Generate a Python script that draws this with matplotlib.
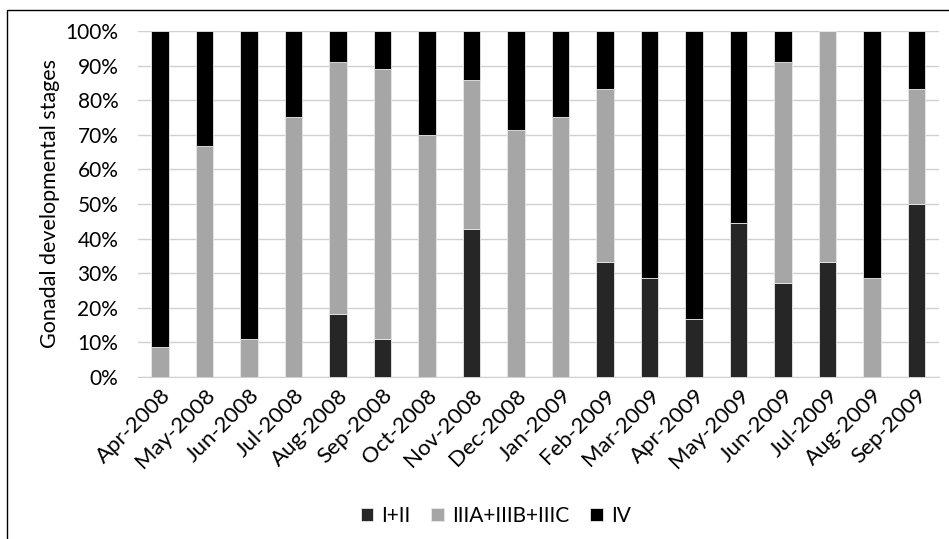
import matplotlib.pyplot as plt
import numpy as np
from matplotlib.patches import Rectangle


months = ["Apr-2008", "May-2008", "Jun-2008", "Jul-2008", "Aug-2008", "Sep-2008",
          "Oct-2008", "Nov-2008", "Dec-2008", "Jan-2009", "Feb-2009", "Mar-2009",
          "Apr-2009", "May-2009", "Jun-2009", "Jul-2009", "Aug-2009", "Sep-2009"]
stage_1_2 = [0, 0, 0, 0, 18.2, 11.1, 0, 42.9, 0, 0, 33.3, 28.6, 16.7, 44.4, 27.3, 33.3, 0, 50.0]
stage_3 = [8.7, 66.7, 11.1, 75.0, 72.7, 77.8, 70.0, 42.9, 71.4, 75.0, 50.0, 0, 0, 0, 63.6, 66.7, 28.6, 33.3]
stage_4 = [91.3, 33.3, 88.9, 25.0, 9.1, 11.1, 30.0, 14.3, 28.6, 25.0, 16.7, 71.4, 83.3, 55.6, 9.1, 0, 71.4, 16.7]

labels = ["I+II", "IIIA+IIIB+IIIC", "IV"]
colors = ["#262626", "#a6a6a6", "#000000"]

plt.rcParams["font.family"] = ["Lato", "DejaVu Sans"]

fig = plt.figure(figsize=(9.49, 5.39), dpi=100)
ax = fig.add_axes([0.1452, 0.3006, 0.8440, 0.6419])

x = np.arange(len(months))
bottom = np.zeros(len(months))
for vals, lab, col in zip([stage_1_2, stage_3, stage_4], labels, colors):
    vals = np.asarray(vals, dtype=float)
    ax.bar(x, vals, width=0.4, bottom=bottom, color=col, edgecolor="#e8e8e8",
           linewidth=0.6, label=lab, zorder=3)
    bottom += vals

ax.set_xlim(-0.5, len(months) - 0.5)
ax.set_ylim(0, 100)
ax.set_yticks(np.arange(0, 101, 10))
ax.set_yticklabels([f"{v}%" for v in range(0, 101, 10)])
ax.yaxis.grid(True, color="#d0d0d0", linewidth=1.0, zorder=0)
ax.set_axisbelow(True)
for side in ["top", "right", "left"]:
    ax.spines[side].set_visible(False)
ax.spines["bottom"].set_color("#d0d0d0")
ax.tick_params(axis="both", length=0, labelsize=15, colors="black")
ax.tick_params(axis="y", pad=14)
ax.tick_params(axis="x", pad=6, labelsize=16)
ax.set_xticks(x)
ax.set_xticklabels(months, rotation=45, ha="right", rotation_mode="anchor")
ax.set_ylabel("Gonadal developmental stages", fontsize=15.5, labelpad=4)

ax.legend(loc="center", bbox_to_anchor=(0.447, -0.402), ncol=3, frameon=False,
          fontsize=15, handlelength=0.6, handleheight=0.6, handletextpad=0.4,
          columnspacing=1.0)

fig.patches.append(Rectangle((7 / 949, -0.1), 1.2, 1 - 10 / 539 + 0.1,
                             transform=fig.transFigure, fill=False,
                             edgecolor="black", linewidth=1.0))

fig.savefig("out.png", dpi=100)
